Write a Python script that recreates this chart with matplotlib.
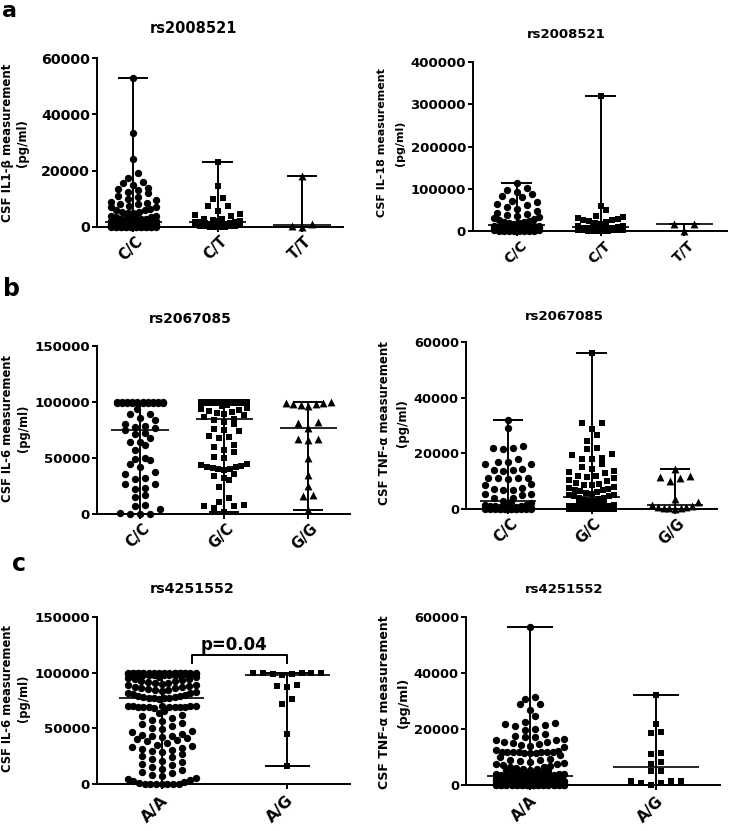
import numpy as np
import matplotlib
matplotlib.use("Agg")
import matplotlib.pyplot as plt
import matplotlib.transforms as mtransforms

# ---------------- data ----------------
rs2008521_genotypes = ["C/C", "C/T", "T/T"]
rs2067085_genotypes = ["C/C", "G/C", "G/G"]
rs4251552_genotypes = ["A/A", "A/G"]

# panel a (left): CSF IL1-beta by rs2008521
il1b_CC = [53000, 33500, 24000, 19000, 17500, 16000, 15500, 15000, 14000, 13500, 13000, 12500,
           12000, 11000, 10500, 10000, 9500, 9000, 8500, 8000, 8000, 7500, 7000, 7000, 6500, 6000,
           6000, 5500, 5500, 5000, 5000, 4500, 4500, 4000, 4000, 4000, 3500, 3500, 3000, 3000,
           3000, 2700, 2500, 2500, 2300, 2200, 2100, 2000, 1800, 1700, 1600, 1500, 1500, 1400,
           1300, 1200, 1200, 1100, 1000, 1000, 900, 900, 800, 800, 700, 700, 600, 600, 500, 500,
           400, 400, 300, 300, 300, 200, 200, 200, 100, 100, 100, 50, 50, 50,
           0, 0, 0, 0, 0, 0, 0, 0, 0, 0, 0, 0]
il1b_CT = [23000, 14700, 10200, 9800, 7500, 7300, 5800, 4500, 4200, 3800, 3000, 2800, 2500, 2200,
           2000, 1900, 1800, 1600, 1500, 1300, 1200, 1000, 900, 800, 700, 600, 500, 400, 300, 200,
           100, 0, 0, 0]
il1b_TT = [18000, 1000, 300, 0]

# panel a (right): CSF IL-18 by rs2008521
il18_CC = [113000, 102000, 98000, 93000, 88000, 84000, 80000, 72000, 68000, 65000, 62000, 57000,
           52000, 47000, 43000, 40000, 38000, 35000, 32000, 30000, 28000, 26000, 24000, 22000,
           21000, 20000, 18000, 17000, 16000, 15000, 13000, 12000, 11000, 10000, 9500, 9000, 8000,
           7500, 7000, 6500, 6000, 5500, 5000, 4500, 4000, 3500, 3000, 2500, 2000, 1800, 1500,
           1200, 1000, 800, 600, 500, 300, 200, 100, 0]
il18_CT = [320000, 60000, 50000, 35000, 32000, 30000, 29000, 27000, 25000, 23000, 21000, 19000,
           17000, 16000, 14000, 13000, 12000, 11000, 9000, 8000, 7000, 6500, 6000, 5000, 4500,
           4000, 3500, 3000, 2500, 2000, 1500, 1000, 800, 500, 300, 0]
il18_TT = [17000, 16500, 1000]

# panel b (left): CSF IL-6 by rs2067085
il6_b_CC = [100000, 100000, 99900, 99900, 99800, 99800, 99700, 99700, 99600, 99600, 99500, 99500,
            99400, 99300, 99200, 99100, 99000, 98900, 99000, 98800,
            94000, 89500, 89000, 86000, 84000, 80000, 78500, 78000, 76500, 75000,
            72000, 71500, 68000, 64500, 64000, 61500, 57000, 50000, 49500, 48000, 45000, 42000,
            37500, 35500, 32000, 31500, 27000, 26500, 23000, 22000, 17000, 15500, 8000, 7500,
            4500, 500, 0, 0, 0]
il6_b_GC = [100000, 100000, 100000, 100000, 100000, 100000, 99900, 99900, 99800, 99800, 99700,
            99700, 99600, 99600, 99500, 99500, 99400, 99300, 99200, 99100, 99000, 98900, 98800,
            98700, 97000, 96000, 95000, 94000, 93000, 92000, 91000, 90000, 89000, 88000, 87000,
            85000, 84000, 82000, 80000, 76000, 75000, 74000, 70000, 69000, 68000, 62000, 60000,
            57000, 55000, 51000, 50000, 45000, 44000, 43000, 42000, 42000, 41000, 40000, 40000,
            39000, 36000, 34000, 32000, 30000, 24000, 14000, 11000, 8000, 7500, 7000, 5000, 2000]
il6_b_GG = [100000, 99000, 99000, 98000, 98000, 97000, 96000, 82000, 81000, 77000,
            67000, 67000, 66000, 50000, 35000, 25000, 17000, 16000, 4000]

# panel b (right): CSF TNF-alpha by rs2067085
tnf_b_CC = [32000, 29000, 22500, 22000, 22000, 21500, 18000, 17000, 17000, 16000, 16000, 14500,
            14000, 14000, 13500, 11000, 11000, 11000, 11000, 10800, 9000, 8500, 7500, 7200, 7000,
            7000, 5500, 5500, 5000, 4000, 3800, 3000, 2500, 2000, 2000, 1500, 1500, 1200, 1000,
            1000, 800, 800, 600, 500, 500, 400, 300, 300, 200, 200, 100, 100, 50, 50,
            0, 0, 0, 0, 0, 0, 0, 0, 0, 0]
tnf_b_GC = [56000, 31000, 30800, 28800, 26500, 24600, 21800, 21500, 19800, 19500, 18500, 18000,
            17800, 16200, 15000, 14500, 13500, 13200, 12800, 12000, 12000, 11500, 11000, 10500,
            10000, 9500, 9000, 8800, 8500, 8000, 7500, 7200, 7000, 6800, 6500, 6000, 5800, 5500,
            5200, 5000, 4800, 4500, 4000, 3800, 3500, 3200, 3000, 2800, 2500, 2200, 2000, 1800,
            1600, 1500, 1300, 1200, 1000, 900, 800, 700, 600, 500, 400, 400, 300, 300, 200, 200,
            100, 100, 50, 50, 0, 0, 0, 0, 0, 0, 0, 0, 0, 0, 0, 0]
tnf_b_GG = [14500, 12000, 11500, 11000, 10200, 3600, 2500, 1300, 1000, 800, 600, 500, 400, 300, 0]

# panel c (left): CSF IL-6 by rs4251552
il6_c_AA = [100000, 100000, 100000, 100000, 100000, 100000, 100000, 100000, 100000, 100000,
            99800, 99800, 99700, 99600, 99600, 99500, 99500, 99400, 99300, 99300, 99200, 99100,
            99000, 99000, 98900, 98800, 98700, 98600, 98500, 98400, 98300, 98200, 98100, 98000,
            97900, 97800, 97700, 97600,
            96400, 95800, 95100, 94700, 93900, 93400, 92800, 92300, 91600, 91100, 90500, 89800,
            89200, 88700, 88100, 87400, 86900, 86300, 85800, 85200, 84600, 84100, 83500, 82700,
            82000, 81300, 80600, 79900, 79200, 78700, 78300, 77900, 77600, 77300, 77100, 76900,
            76700,
            70300, 70100, 69900, 69800, 69700, 69600, 69500, 69400, 69300, 69200, 69100, 68900,
            68700, 65800, 63900, 62400, 60700, 59300, 57800, 56400, 55100, 53600, 52200, 50700,
            49400, 47900, 46600, 45300, 44200, 43400, 42700, 42100, 41500, 40800, 39600, 38300,
            36900, 35400, 34100, 33000, 32200, 31600, 30900, 29700, 28300, 26800, 25400, 23900,
            22600, 21100, 19700, 18300, 16800, 15400, 13900, 12600, 11200, 9800, 8300, 6900,
            5400, 4100, 3200, 2300, 1400, 700, 200, 0, 0, 0, 0, 0, 0]
il6_c_AG = [100000, 100000, 100000, 99500, 99500, 99000, 99000, 98000, 89000, 88000, 87500,
            76000, 71500, 44500, 16500]

# panel c (right): CSF TNF-alpha by rs4251552
tnf_c_AA = [56300, 31300, 30700, 28900, 28800, 26800, 24700, 22300, 22000, 21600, 21200, 21100,
            20000, 19700, 18200, 17500, 17100, 16900, 16400, 16000, 15800, 15400, 15100, 14900,
            14400, 14000, 13900, 13400, 12200, 11900, 11800, 11700, 11700, 11600, 11600, 11500,
            11500, 11400, 11300, 11200, 10400, 9800, 9300, 8800, 8600, 8300, 8000, 7700, 7400,
            7200, 6900, 6600, 6300, 6100, 5900, 5700, 5500, 5300, 5100, 4900, 4700, 4600, 4400,
            4300, 4100, 4000, 3900, 3800, 3700, 3600, 3500, 3400, 3300, 3250, 3200,
            3100, 3000, 2900, 2800, 2700, 2600, 2500, 2400, 2300, 2200, 2100, 2000, 1900, 1800,
            1700, 1600, 1500, 1400, 1300, 1200, 1100, 1000, 950, 900, 850, 800, 750, 700, 650,
            600, 550, 500, 450, 400, 350, 300, 250, 200, 150, 100, 80, 60, 40, 20, 10,
            0, 0, 0, 0, 0, 0, 0, 0, 0, 0, 0, 0, 0, 0, 0, 0, 0, 0, 0, 0, 0, 0, 0, 0, 0, 0, 0, 0,
            0, 0]
tnf_c_AG = [32000, 21500, 18800, 18400, 11200, 11000, 8100, 7500, 4800, 4800, 1300, 1200, 1200,
            600, 400, 0]

# ---------------- figure ----------------
plt.rcParams['font.family'] = ['DejaVu Sans']
plt.rcParams['font.weight'] = 'bold'
W, H = 730, 831
fig = plt.figure(figsize=(W / 100, H / 100), dpi=100)


def fx(x):
    return x / W


def fy(y):
    return 1 - y / H


def swarm_offsets(vals, ppu_x, ppu_y, d_px=10.0, dmin_px=5.0, row_px=7.0, half_units=0.27):
    v = np.asarray(vals, float)
    n = len(v)
    order = np.argsort(v, kind='stable')
    offs = np.zeros(n)
    half_px = half_units * ppu_x
    i = 0
    while i < n:
        start = v[order[i]] * ppu_y
        j = i
        while j < n and v[order[j]] * ppu_y - start < row_px:
            j += 1
        k = j - i
        if k == 1:
            pos = np.array([0.0])
        else:
            d = min(d_px, 2 * half_px / (k - 1))
            if d < dmin_px:
                slots = int(2 * half_px // dmin_px) + 1
                d = 2 * half_px / (slots - 1)
                base = (np.arange(slots) - (slots - 1) / 2) * d
                base = base[np.argsort(np.abs(base), kind='stable')]
                pos = np.array([base[m % slots] for m in range(k)])
            else:
                pos = (np.arange(k) - (k - 1) / 2) * d
                pos = pos[np.argsort(np.abs(pos), kind='stable')]
        for m, idx in enumerate(order[i:j]):
            offs[idx] = pos[m] / ppu_x
        i = j
    return offs


panels = [
    dict(box=(97, 343, 58, 227), xlim=(-0.43, 2.485), ymax=60000,
         yticks=[0, 20000, 40000, 60000], groups=[il1b_CC, il1b_CT, il1b_TT],
         markers=['o', 's', '^'], cats=rs2008521_genotypes,
         title='rs2008521', title_xy=(193, 33), title_fs=10.5,
         ylab='CSF IL1-β measurement', ylab_x=(8, 23), ylab_y=143, ylab_fs=8.5,
         ytick_fs=10.2, xtick_fs=10.5, xoff=(7, 12)),
    dict(box=(473, 727, 62, 231), xlim=(-0.518, 2.506), ymax=400000,
         yticks=[0, 100000, 200000, 300000, 400000], groups=[il18_CC, il18_CT, il18_TT],
         markers=['o', 's', '^'], cats=rs2008521_genotypes,
         title='rs2008521', title_xy=(566, 38), title_fs=9.5,
         ylab='CSF IL-18 measurement', ylab_x=(382, 400), ylab_y=143, ylab_fs=8.0,
         ytick_fs=9.5, xtick_fs=10.0, xoff=(8, 12)),
    dict(box=(97, 350, 346, 514), xlim=(-0.511, 2.495), ymax=150000,
         yticks=[0, 50000, 100000, 150000], groups=[il6_b_CC, il6_b_GC, il6_b_GG],
         markers=['o', 's', '^'], cats=rs2067085_genotypes,
         title='rs2067085', title_xy=(190, 323), title_fs=10,
         ylab='CSF IL-6 measurement', ylab_x=(8, 24), ylab_y=428, ylab_fs=8.3,
         ytick_fs=9.6, xtick_fs=10.5, xoff=(7, 12)),
    dict(box=(466, 717, 342, 509), xlim=(-0.503, 2.503), ymax=60000,
         yticks=[0, 20000, 40000, 60000], groups=[tnf_b_CC, tnf_b_GC, tnf_b_GG],
         markers=['o', 's', '^'], cats=rs2067085_genotypes,
         title='rs2067085', title_xy=(564, 320), title_fs=9.5,
         ylab='CSF TNF-α measurement', ylab_x=(385, 403), ylab_y=423, ylab_fs=8.5,
         ytick_fs=9.4, xtick_fs=10.5, xoff=(7, 12)),
    dict(box=(97, 350, 617, 784), xlim=(-0.515, 1.5), ymax=150000,
         yticks=[0, 50000, 100000, 150000], groups=[il6_c_AA, il6_c_AG],
         markers=['o', 's'], cats=rs4251552_genotypes,
         title='rs4251552', title_xy=(192, 593), title_fs=10.3,
         ylab='CSF IL-6 measurement', ylab_x=(8, 24), ylab_y=698, ylab_fs=8.3,
         ytick_fs=9.6, xtick_fs=11.5, xoff=(4, 14)),
    dict(box=(466, 720, 617, 784.5), xlim=(-0.508, 1.508), ymax=60000,
         yticks=[0, 20000, 40000, 60000], groups=[tnf_c_AA, tnf_c_AG],
         markers=['o', 's'], cats=rs4251552_genotypes,
         title='rs4251552', title_xy=(564, 593), title_fs=9.5,
         ylab='CSF TNF-α measurement', ylab_x=(385, 403), ylab_y=702, ylab_fs=9.0,
         ytick_fs=9.4, xtick_fs=11.0, xoff=(5, 14)),
]

marker_size = {'o': 28, 's': 24, '^': 32}
LW = 1.4
axes = []
for p in panels:
    x0, x1, yt, yb = p['box']
    ax = fig.add_axes([fx(x0), fy(yb), (x1 - x0) / W, (yb - yt) / H])
    axes.append(ax)
    ax.set_xlim(*p['xlim'])
    ax.set_ylim(0, p['ymax'])
    for s in ['top', 'right']:
        ax.spines[s].set_visible(False)
    for s in ['left', 'bottom']:
        ax.spines[s].set_linewidth(LW)
    ax.set_yticks(p['yticks'])
    ax.set_yticklabels([str(t) for t in p['yticks']], fontsize=p['ytick_fs'], fontweight='bold')
    ax.set_xticks(range(len(p['cats'])))
    ax.set_xticklabels([])
    ax.tick_params(axis='both', direction='out', length=3.6, width=LW, pad=1.5)

    ppu_x = (x1 - x0) / (p['xlim'][1] - p['xlim'][0])
    ppu_y = (yb - yt) / p['ymax']
    for i, (vals, mk) in enumerate(zip(p['groups'], p['markers'])):
        v = np.asarray(vals, float)
        offs = swarm_offsets(v, ppu_x, ppu_y)
        ax.scatter(i + offs, v, marker=mk, s=marker_size[mk], color='black',
                   linewidths=0, clip_on=False, zorder=3)
        med, lo, hi = np.median(v), v.min(), v.max()
        ax.plot([i, i], [lo, hi], color='black', lw=LW, zorder=4, clip_on=False,
                solid_capstyle='butt')
        for yv in (lo, hi):
            ax.plot([i - 0.18, i + 0.18], [yv, yv], color='black', lw=LW, zorder=4,
                    clip_on=False, solid_capstyle='butt')
        ax.plot([i - 0.34, i + 0.34], [med, med], color='black', lw=1.2, zorder=4,
                clip_on=False, solid_capstyle='butt')

    # rotated category labels
    dx, dy = p['xoff']
    trans = ax.get_xaxis_transform() + mtransforms.ScaledTranslation(dx / 100, -dy / 100,
                                                                     fig.dpi_scale_trans)
    for i, lab in enumerate(p['cats']):
        ax.text(i, 0, lab, transform=trans, rotation=45, ha='right', va='center',
                rotation_mode='anchor', fontsize=p['xtick_fs'], fontweight='bold')

    # title
    tx, ty = p['title_xy']
    fig.text(fx(tx), fy(ty), p['title'], ha='center', va='baseline',
             fontsize=p['title_fs'], fontweight='bold')
    # y label (two lines)
    lx1, lx2 = p['ylab_x']
    fig.text(fx(lx1), fy(p['ylab_y']), p['ylab'], rotation=90, ha='center', va='center',
             fontsize=p['ylab_fs'], fontweight='bold')
    fig.text(fx(lx2), fy(p['ylab_y']), '(pg/ml)', rotation=90, ha='center', va='center',
             fontsize=p['ylab_fs'], fontweight='bold')

# significance bracket on panel c (left)
axc = axes[4]
axc.plot([0.24, 0.24, 1.0, 1.0], [109000, 116000, 116000, 109000], color='black', lw=LW,
         clip_on=False, zorder=4)
axc.text(0.576, 120000, 'p=0.04', ha='center', va='baseline', fontsize=12, fontweight='bold')

# panel letters
fig.text(fx(2), fy(1), 'a', ha='left', va='top', fontsize=16, fontweight='bold')
fig.text(fx(3), fy(296), 'b', ha='left', va='baseline', fontsize=17, fontweight='bold')
fig.text(fx(12), fy(571), 'c', ha='left', va='baseline', fontsize=17, fontweight='bold')

fig.savefig('out.png', dpi=100)
